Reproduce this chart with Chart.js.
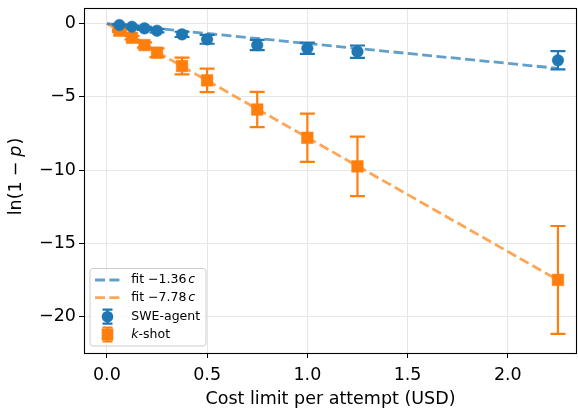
<!DOCTYPE html>
<html><head><meta charset="utf-8">
<script src="https://cdn.jsdelivr.net/npm/chart.js@4.4.1/dist/chart.umd.min.js"></script>
<style>html,body{margin:0;padding:0;background:#fff}#wrap{width:578px;height:410px}</style>
</head><body><div id="wrap"><canvas id="c" width="578" height="410"></canvas></div>
<script>
// ---- data ----
const cost = [0.0625, 0.125, 0.1875, 0.25, 0.375, 0.5, 0.75, 1.0, 1.25, 2.25];
const sweMean = [-0.10, -0.22, -0.33, -0.49, -0.74, -1.08, -1.47, -1.69, -1.92, -2.51];
const sweErr  = [0.05, 0.08, 0.10, 0.12, 0.18, 0.30, 0.35, 0.38, 0.42, 0.62];
const kMean = [-0.49, -0.97, -1.47, -1.99, -2.90, -3.88, -5.87, -7.80, -9.75, -17.5];
const kErr  = [0.08, 0.12, 0.18, 0.30, 0.57, 0.80, 1.20, 1.65, 2.03, 3.68];
const fitX = [0, 2.25];
const sweFitY = [0, -3.06];
const kFitY = [0, -17.51];
const sweSlopeLabel = '−1.36';
const kSlopeLabel = '−7.78';
const xTicks = [0, 0.5, 1.0, 1.5, 2.0];
const xTickLabels = ['0.0', '0.5', '1.0', '1.5', '2.0'];
const yTicks = [0, -5, -10, -15, -20];
const yTickLabels = ['0', '−5', '−10', '−15', '−20'];

const BLUE = '#1f77b4', ORANGE = '#ff7f0e';
const BLUE_A = 'rgba(31,119,180,0.7)', ORANGE_A = 'rgba(255,127,14,0.7)';
const FONT = 'DejaVu Sans';
const TICK_SIZE = 17.5;
const LEG_SIZE = 12.5;

function pts(xs, ys){ return xs.map((x,i)=>({x:x, y:ys[i]})); }

const errSets = [
  {ds:2, err:sweErr, color:BLUE},
  {ds:3, err:kErr, color:ORANGE}
];

const errPlugin = {
  id:'errbars',
  beforeDatasetsDraw(chart){
    const ctx = chart.ctx, xs = chart.scales.x, ys = chart.scales.y;
    ctx.save();
    errSets.forEach(s=>{
      const data = chart.data.datasets[s.ds].data;
      ctx.strokeStyle = s.color; ctx.lineWidth = 2.2;
      data.forEach((p,i)=>{
        const px = xs.getPixelForValue(p.x);
        const y1 = ys.getPixelForValue(p.y + s.err[i]);
        const y2 = ys.getPixelForValue(p.y - s.err[i]);
        ctx.beginPath();
        ctx.moveTo(px, y1); ctx.lineTo(px, y2);
        ctx.moveTo(px-7.5, y1); ctx.lineTo(px+7.5, y1);
        ctx.moveTo(px-7.5, y2); ctx.lineTo(px+7.5, y2);
        ctx.stroke();
      });
    });
    ctx.restore();
  }
};

function drawMixed(ctx, parts, x, y){
  parts.forEach(pt=>{
    ctx.font = (pt.italic ? 'italic ' : '') + pt.size + 'px "' + FONT + '"';
    ctx.fillText(pt.t, x, y);
    x += ctx.measureText(pt.t).width + (pt.gap||0);
  });
  return x;
}
function mixedWidth(ctx, parts){
  let w = 0;
  parts.forEach(pt=>{
    ctx.font = (pt.italic ? 'italic ' : '') + pt.size + 'px "' + FONT + '"';
    w += ctx.measureText(pt.t).width + (pt.gap||0);
  });
  return w;
}

const decorPlugin = {
  id:'decor',
  afterDraw(chart){
    const ctx = chart.ctx, a = chart.chartArea, xs = chart.scales.x;
    ctx.save();
    // spines
    ctx.strokeStyle = '#000'; ctx.lineWidth = 1.1;
    ctx.strokeRect(Math.round(a.left)+0.5, Math.round(a.top)+0.5, Math.round(a.right-a.left)-1, Math.round(a.bottom-a.top));
    // x tick labels (positioned by the x scale)
    ctx.fillStyle = '#000'; ctx.textBaseline = 'alphabetic'; ctx.textAlign = 'center';
    ctx.font = TICK_SIZE + 'px "' + FONT + '"';
    xTicks.forEach((v,i)=>{ ctx.fillText(xTickLabels[i], xs.getPixelForValue(v), a.bottom + 27); });
    // axis titles
    ctx.fillText('Cost limit per attempt (USD)', (a.left+a.right)/2, 404);
    // y title rotated
    const yParts = [{t:'ln(1', size:TICK_SIZE, gap:5},{t:'−', size:TICK_SIZE, gap:5},{t:'p', size:TICK_SIZE, italic:true, gap:1},{t:')', size:TICK_SIZE}];
    ctx.textAlign = 'left';
    const w = mixedWidth(ctx, yParts);
    ctx.translate(20.5, 176.5);
    ctx.rotate(-Math.PI/2);
    drawMixed(ctx, yParts, -w/2, 0);
    ctx.restore();

    // legend
    ctx.save();
    const lx = 90, ly = 268.5, lw = 116, lh = 77.5;
    ctx.beginPath();
    ctx.roundRect(lx, ly, lw, lh, 3);
    ctx.fillStyle = 'rgba(255,255,255,0.8)'; ctx.fill();
    ctx.strokeStyle = '#cccccc'; ctx.lineWidth = 1; ctx.stroke();
    const rows = [280, 297.7, 316.7, 334.5];
    const hx1 = 95, hx2 = 119, hc = 107.5, tx = 131.3;
    // fit lines
    [[BLUE_A, sweSlopeLabel],[ORANGE_A, kSlopeLabel]].forEach((r,i)=>{
      ctx.strokeStyle = r[0]; ctx.lineWidth = 2.8; ctx.setLineDash([10,4.4]);
      ctx.beginPath(); ctx.moveTo(hx1, rows[i]); ctx.lineTo(hx2+1, rows[i]); ctx.stroke();
      ctx.setLineDash([]);
      ctx.fillStyle = '#000'; ctx.textBaseline = 'middle'; ctx.textAlign = 'left';
      drawMixed(ctx, [{t:'fit ', size:LEG_SIZE},{t:r[1], size:LEG_SIZE, gap:2},{t:'c', size:LEG_SIZE, italic:true}], tx, rows[i]);
    });
    // errorbar handles
    [[BLUE,'circle'],[ORANGE,'rect']].forEach((r,i)=>{
      const cy = rows[i+2];
      ctx.strokeStyle = r[0]; ctx.lineWidth = 2.2;
      ctx.beginPath();
      ctx.moveTo(hc, cy-7); ctx.lineTo(hc, cy+7);
      ctx.moveTo(hc-5, cy-7); ctx.lineTo(hc+5, cy-7);
      ctx.moveTo(hc-5, cy+7); ctx.lineTo(hc+5, cy+7);
      ctx.stroke();
      ctx.fillStyle = r[0];
      ctx.beginPath();
      if (r[1]==='circle') ctx.arc(hc, cy, 5.8, 0, Math.PI*2); else ctx.rect(hc-5.8, cy-6, 11.6, 12);
      ctx.fill();
    });
    ctx.fillStyle = '#000'; ctx.textBaseline = 'middle'; ctx.textAlign = 'left';
    drawMixed(ctx, [{t:'SWE-agent', size:LEG_SIZE}], tx, rows[2]);
    drawMixed(ctx, [{t:'k', size:LEG_SIZE, italic:true},{t:'-shot', size:LEG_SIZE}], tx, rows[3]);
    ctx.restore();
  }
};

new Chart(document.getElementById('c'), {
  type:'scatter',
  data:{
    datasets:[
      {type:'line', label:'fit '+sweSlopeLabel+' c', data:pts(fitX, sweFitY), borderColor:BLUE_A, borderWidth:2.8, borderDash:[10,4.4], pointRadius:0, fill:false, order:3},
      {type:'line', label:'fit '+kSlopeLabel+' c', data:pts(fitX, kFitY), borderColor:ORANGE_A, borderWidth:2.8, borderDash:[10,4.4], pointRadius:0, fill:false, order:3},
      {label:'SWE-agent', data:pts(cost, sweMean), backgroundColor:BLUE, borderColor:BLUE, pointStyle:'circle', pointRadius:5.8, borderWidth:0.5, order:1},
      {label:'k-shot', data:pts(cost, kMean), backgroundColor:ORANGE, borderColor:ORANGE, pointStyle:'rect', pointRadius:8.2, borderWidth:0.5, order:2}
    ]
  },
  options:{
    responsive:false, animation:false,
    layout:{autoPadding:false, padding:{top:8, right:1, left:0, bottom:0}},
    plugins:{legend:{display:false}, tooltip:{enabled:false}},
    scales:{
      x:{type:'linear', min:-0.114, max:2.345,
        afterBuildTicks:s=>{ s.ticks = xTicks.map(v=>({value:v})); },
        afterFit:s=>{ s.height = 57; s.paddingLeft = 0; s.paddingRight = 0; },
        grid:{color:'#e6e6e6', lineWidth:1, tickColor:'#000', tickLength:5, tickWidth:1},
        border:{display:false},
        ticks:{display:false}
      },
      y:{type:'linear', min:-22.49, max:1.06,
        afterBuildTicks:s=>{ s.ticks = yTicks.map(v=>({value:v})); },
        afterFit:s=>{ s.width = 84; s.paddingTop = 0; s.paddingBottom = 0; },
        grid:{color:'#e6e6e6', lineWidth:1, tickColor:'#000', tickLength:5, tickWidth:1},
        border:{display:false},
        ticks:{font:{family:FONT, size:TICK_SIZE, lineHeight:1.0}, color:'#000', padding:3,
          callback:(v,i)=>yTickLabels[i]}
      }
    }
  },
  plugins:[errPlugin, decorPlugin]
});
</script></body></html>
